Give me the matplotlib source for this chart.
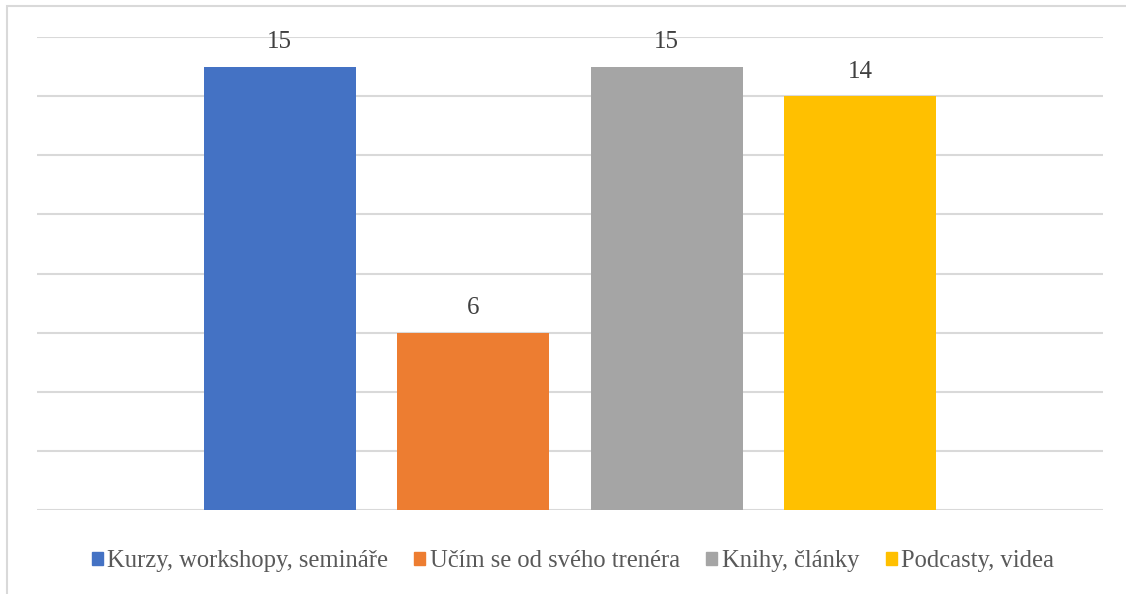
import matplotlib.pyplot as plt
from matplotlib.patches import Rectangle

# data
categories = ["Kurzy, workshopy, semináře", "Učím se od svého trenéra",
              "Knihy, články", "Podcasty, videa"]
values = [15, 6, 15, 14]
colors = ["#4472C4", "#ED7D31", "#A5A5A5", "#FFC000"]

plt.rcParams['font.family'] = ['Liberation Serif', 'DejaVu Serif']

W, H = 1126, 594
fig = plt.figure(figsize=(W / 100, H / 100), dpi=100)

# light frame around the chart area (only left and top edges are visible)
fig.patches.append(Rectangle((7 / W, -1), 2, 2 - 6 / H, transform=fig.transFigure,
                             fill=False, edgecolor='#D9D9D9', linewidth=1.5))

ax = fig.add_axes([37 / W, 1 - 510 / H, (1103 - 37) / W, (510 - 37) / H])

x = list(range(len(values)))
bars = ax.bar(x, values, width=0.786, color=colors, zorder=3)

for b, v in zip(bars, values):
    ax.text(b.get_x() + b.get_width() / 2, v + 0.45, str(v),
            ha='center', va='bottom', fontsize=18, color='#404040')

ax.set_ylim(0, 16)
ax.set_xlim(1.5 - 2.755, 1.5 + 2.755)
ax.set_yticks(range(0, 17, 2))
ax.yaxis.grid(True, color='#D9D9D9', linewidth=1.5, zorder=0)
ax.tick_params(left=False, bottom=False, labelleft=False, labelbottom=False)
for s in ax.spines.values():
    s.set_visible(False)

handles = [Rectangle((0, 0), 1, 1, color=c) for c in colors]
fig.legend(handles, categories, loc='center', bbox_to_anchor=(573 / W, 1 - 561 / H),
           ncol=4, frameon=False, fontsize=17.7, labelcolor='#595959',
           handlelength=0.45, handleheight=0.45, handletextpad=0.2, columnspacing=1.05)

fig.savefig('out.png', dpi=100)
